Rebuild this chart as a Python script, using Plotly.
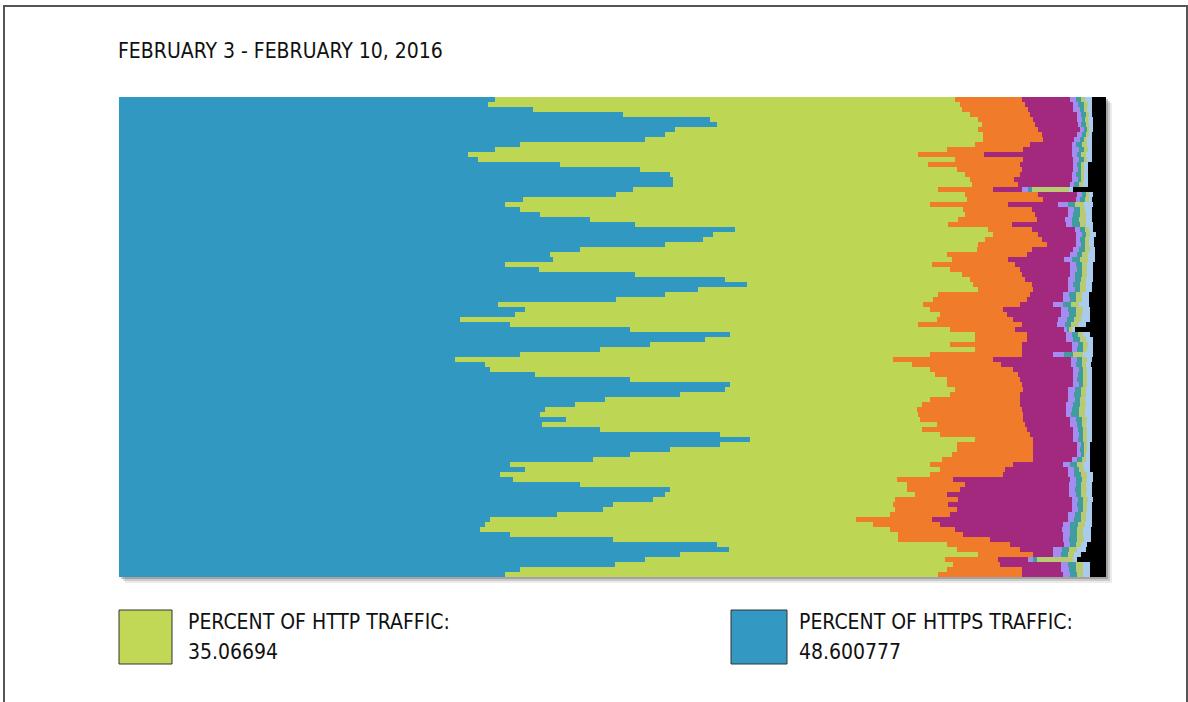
import plotly.graph_objects as go

# One row per time slot, Feb 3 (top) to Feb 10 (bottom); values are percent of traffic
slots = list(range(96))

https = [38.1,37.4,41.9,51.1,59.9,60.6,56.3,55.3,53.3,40.6,
         38.1,35.4,36.4,44.7,52.8,55.8,56.1,56.1,52.1,50.4,
         40.9,39.1,40.6,42.7,47.7,52.3,62.4,60.2,59.2,55.3,
         46.7,43.7,44.0,39.1,42.6,52.3,61.4,63.6,58.7,55.3,
         50.4,38.4,41.1,40.1,34.5,39.6,51.8,61.9,59.4,53.8,
         48.7,40.6,34.0,37.1,37.6,42.1,51.8,61.9,61.4,56.8,
         49.2,46.2,43.2,42.7,45.3,42.9,48.7,60.9,63.9,60.9,
         55.8,51.8,48.0,39.6,41.1,38.6,39.9,46.7,55.8,55.3,
         54.1,50.1,49.0,44.4,37.6,37.1,36.6,39.6,50.1,60.6,
         61.8,56.8,53.3,50.3,40.6,39.1]

http = [46.6,47.8,43.5,35.1,27.1,26.8,30.7,32.2,34.2,46.1,
        45.8,45.6,48.3,37.3,32.1,29.9,30.1,30.3,30.9,35.3,
        45.0,43.1,44.9,43.0,37.3,31.7,25.6,28.4,28.5,31.7,
        40.2,40.2,40.4,43.3,41.6,33.1,24.8,22.9,28.3,27.7,
        32.1,43.1,41.1,43.1,48.4,41.4,32.4,24.8,27.3,30.4,
        38.0,41.6,44.4,43.2,44.6,40.6,32.1,22.0,23.3,27.4,
        33.0,35.2,37.6,38.3,35.9,40.0,32.7,22.3,22.8,24.0,
        29.1,32.6,35.4,42.6,42.1,43.6,38.9,33.1,24.0,25.3,
        24.5,28.3,29.6,33.7,37.1,39.3,41.5,39.3,28.8,23.3,
        23.1,30.2,30.4,34.2,43.3,43.9]

orange = [6.8,6.6,6.7,6.1,5.6,5.4,6.1,6.0,6.1,5.6,
          7.7,6.6,6.9,9.3,6.6,5.6,4.5,4.7,5.6,7.4,
          7.7,7.9,7.0,7.1,8.0,6.5,4.5,4.5,5.8,7.0,
          5.6,8.1,5.7,8.4,7.1,6.1,5.6,6.0,5.6,9.3,
          9.5,9.8,7.4,6.8,7.7,10.5,6.6,5.3,5.3,7.3,
          4.8,9.3,10.1,9.1,8.4,8.4,7.4,7.6,6.9,7.1,
          9.1,9.9,10.7,10.6,10.4,8.9,10.6,9.1,5.9,7.7,
          7.7,8.2,9.2,8.4,6.6,7.4,5.7,5.9,5.4,3.3,
          6.4,5.6,6.3,6.1,7.7,6.8,6.6,6.6,9.3,6.4,
          6.4,5.6,5.4,4.8,7.6,8.5]

purple = [4.9,4.9,4.6,4.8,4.5,4.4,4.3,3.6,3.2,4.3,
          5.0,9.0,5.1,5.4,5.2,5.3,5.9,5.3,2.9,4.0,
          3.4,5.0,3.6,3.3,2.8,5.4,4.4,3.9,3.5,3.0,
          4.2,4.4,5.6,5.6,5.1,4.9,4.4,3.6,3.5,3.3,
          3.6,3.3,5.8,5.4,4.5,3.5,4.9,3.9,3.9,5.1,
          5.1,3.1,8.0,7.1,6.1,5.6,5.4,5.2,4.6,4.9,
          4.9,4.6,4.4,4.3,4.8,4.6,4.7,4.4,4.1,4.5,
          4.5,4.5,4.0,5.0,6.3,6.5,11.9,10.6,11.1,12.4,
          11.6,12.6,11.7,12.0,13.8,12.4,10.8,10.1,7.4,5.4,
          3.3,2.0,3.0,6.1,3.9,4.1]

lavender = [0.6,0.5,0.7,0.4,0.5,0.3,0.4,0.5,0.6,0.4,
            0.7,0.5,0.6,0.4,0.5,0.4,0.6,0.4,0.6,0.5,
            0.4,1.0,0.7,0.6,0.8,0.7,0.5,0.6,0.4,0.5,
            0.6,0.7,0.9,0.6,0.7,0.5,0.7,0.6,0.8,0.7,
            0.8,1.0,0.8,0.9,0.9,0.8,0.3,0.7,0.8,0.6,
            0.5,1.1,0.6,0.5,0.6,0.5,0.4,0.6,0.7,0.6,
            0.7,0.8,0.7,0.6,0.6,0.7,0.5,0.6,0.5,0.4,
            0.3,0.4,0.5,0.8,0.7,0.7,0.6,0.7,0.6,0.7,
            0.6,0.5,0.6,0.7,0.6,0.8,0.9,0.8,0.7,0.7,
            0.9,0.8,0.5,0.8,0.9,0.8]

teal = [0.5,0.6,0.4,0.5,0.3,0.5,0.3,0.4,0.4,0.6,
        0.5,0.4,0.5,0.4,0.3,0.5,0.3,0.5,0.4,0.4,
        0.5,0.8,0.6,0.7,0.7,0.8,0.5,0.4,0.5,0.4,
        0.6,0.5,0.8,0.6,0.5,0.7,0.6,0.7,0.5,0.7,
        0.6,0.9,0.8,0.7,0.8,0.7,0.3,0.6,0.7,0.5,
        0.6,1.0,0.5,0.6,0.4,0.5,0.6,0.4,0.6,0.7,
        0.5,0.7,0.7,0.8,0.6,0.5,0.5,0.4,0.5,0.3,
        0.4,0.3,0.5,0.7,0.5,0.7,0.6,0.5,0.6,0.5,
        0.5,0.6,0.5,0.6,0.7,0.8,0.7,0.7,0.8,0.6,
        0.8,0.7,0.4,0.8,0.7,0.7]

olive = [0.4,0.4,0.3,0.3,0.3,0.3,0.2,0.3,0.3,0.5,
         0.4,0.5,0.3,0.3,0.3,0.3,0.3,0.4,3.8,0.3,
         0.4,0.9,0.5,0.6,0.7,0.6,0.4,0.4,0.4,0.4,
         0.5,0.6,0.8,0.5,0.5,0.5,0.5,0.6,0.6,0.6,
         0.6,0.8,0.7,0.6,0.7,0.7,0.3,0.5,0.6,0.5,
         0.4,1.0,0.5,0.4,0.4,0.4,0.4,0.4,0.5,0.5,
         0.5,0.6,0.6,0.6,0.5,0.4,0.4,0.4,0.4,0.3,
         0.3,0.2,0.4,0.6,0.5,0.6,0.5,0.5,0.6,0.5,
         0.5,0.4,0.4,0.5,0.5,0.7,0.6,0.6,0.7,0.5,
         0.8,0.7,3.7,0.7,0.7,0.6]

light_blue = [0.7,0.4,0.5,0.3,0.5,0.4,0.4,0.3,0.5,0.5,
              0.4,0.6,0.5,0.4,0.4,0.4,0.4,0.5,0.4,0.4,
              0.3,0.9,0.7,0.6,0.6,0.7,0.4,0.6,0.5,0.5,
              0.5,0.7,0.7,0.6,0.6,0.6,0.7,0.6,0.6,0.7,
              0.7,1.0,0.7,0.8,0.9,0.8,0.3,0.7,0.7,0.5,
              0.6,1.0,0.5,0.5,0.5,0.5,0.5,0.5,0.6,0.6,
              0.7,0.6,0.7,0.7,0.5,0.6,0.5,0.5,0.5,0.3,
              0.3,0.4,0.4,0.7,0.6,0.6,0.6,0.6,0.5,0.6,
              0.5,0.5,0.5,0.6,0.6,0.7,0.8,0.8,0.7,0.6,
              0.9,0.7,0.4,0.7,0.7,0.7]

# remainder of each row (unclassified traffic)
series_main = [https, http, orange, purple, lavender, teal, olive, light_blue]
other = [round(100 - sum(s[i] for s in series_main), 2) for i in range(len(slots))]

title_text = "FEBRUARY 3 - FEBRUARY 10, 2016"
http_avg = "35.06694"
https_avg = "48.600777"

names = ["HTTPS", "HTTP", "Other 1", "Other 2", "Other 3", "Other 4", "Other 5", "Other 6", "Unknown"]
colors = ["#3198c1", "#bdd654", "#f07b2b", "#a2297d", "#a58cf3", "#3f9da0",
          "#b8cb72", "#a9cbee", "#000000"]
all_series = series_main + [other]

W, H = 1188, 702
def px(x):
    return x / W
def py(y):
    return 1 - y / H

fig = go.Figure()
for name, vals, col in zip(names, all_series, colors):
    fig.add_trace(go.Bar(
        y=slots, x=vals, orientation="h", name=name,
        marker=dict(color=col, line=dict(width=0)),
        hoverinfo="skip", showlegend=False,
    ))

FONT = "Liberation Sans Narrow, DejaVu Sans Condensed, Arial Narrow, sans-serif"
FS = 21

shapes = []
# drop shadow of chart block
for off, op in [(6, 0.10), (4, 0.18), (2, 0.28)]:
    shapes.append(dict(type="rect", xref="paper", yref="paper", layer="below",
                       x0=px(119 + off), x1=px(1106 + off), y0=py(577 + off), y1=py(97 + off),
                       fillcolor=f"rgba(60,60,60,{op})", line=dict(width=0)))
# outer frame
shapes.append(dict(type="path", xref="paper", yref="paper", layer="above",
                   path=f"M {px(4)},{py(710)} L {px(4)},{py(6)} L {px(1187)},{py(6)} L {px(1187)},{py(710)}",
                   line=dict(color="#555555", width=2)))
# legend swatches
shapes.append(dict(type="rect", xref="paper", yref="paper",
                   x0=px(119), x1=px(172), y0=py(664), y1=py(610),
                   fillcolor="#c0d855", line=dict(color="#333333", width=1)))
shapes.append(dict(type="rect", xref="paper", yref="paper",
                   x0=px(731), x1=px(787), y0=py(664), y1=py(610),
                   fillcolor="#3399c2", line=dict(color="#333333", width=1)))

def label(text, x, y):
    return dict(text=text, x=px(x), y=py(y), xref="paper", yref="paper",
                xanchor="left", yanchor="middle", showarrow=False,
                font=dict(family=FONT, size=FS, color="#111111"))

annotations = [
    label(title_text, 116, 51),
    label("PERCENT OF HTTP TRAFFIC:", 186, 622),
    label(http_avg, 186, 652),
    label("PERCENT OF HTTPS TRAFFIC:", 797, 622),
    label(https_avg, 797, 652),
]

fig.update_layout(
    width=W, height=H,
    margin=dict(l=0, r=0, t=0, b=0, pad=0),
    paper_bgcolor="#ffffff", plot_bgcolor="rgba(0,0,0,0)",
    barmode="stack", bargap=0,
    xaxis=dict(domain=[px(119), px(1106)], range=[0, 100], visible=False, fixedrange=True),
    yaxis=dict(domain=[py(577), py(97)], range=[len(slots) - 0.5, -0.5], visible=False, fixedrange=True),
    shapes=shapes, annotations=annotations,
    showlegend=False,
)

fig.write_html("out.html", config={"displayModeBar": False, "staticPlot": True},
               post_script="document.body.style.margin='0';document.body.style.overflow='hidden';")
